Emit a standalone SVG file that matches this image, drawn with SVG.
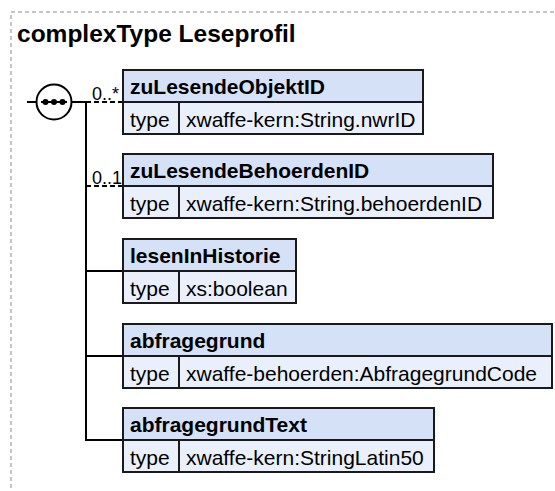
<svg xmlns="http://www.w3.org/2000/svg" width="555" height="491" viewBox="0 0 555 491">
<style>
text{font-family:"Liberation Sans",Arial,sans-serif;fill:#000}
.title{font-size:24.5px;font-weight:bold}
.name{font-size:21px;font-weight:bold}
.val{font-size:21px}
.mult{font-size:18px}
.hdr{fill:#d5e1f6;stroke:#1a1a1a;stroke-width:2}
.row{fill:#e9f0fb;stroke:#1a1a1a;stroke-width:2}
.sep{stroke:#1a1a1a;stroke-width:2}
.ln{stroke:#000;stroke-width:2;fill:none}
.dl{stroke:#000;stroke-width:2;fill:none;stroke-dasharray:5,3}
</style>
<rect x="11" y="12" width="600" height="520" fill="none" stroke="#8a8a8a" stroke-width="1" stroke-dasharray="4,3"/>
<text class="title" x="17" y="42">complexType Leseprofil</text>
<g id="sequence">
<line class="ln" x1="27" y1="102" x2="36" y2="102"/>
<circle cx="54" cy="102" r="17.5" fill="#fff" stroke="#000" stroke-width="2"/>
<line class="ln" x1="41" y1="102" x2="67" y2="102"/>
<circle cx="45.5" cy="102" r="3" fill="#000"/>
<circle cx="54" cy="102" r="3" fill="#000"/>
<circle cx="62.5" cy="102" r="3" fill="#000"/>
</g>
<g id="connectors">
<line class="ln" x1="71.5" y1="102" x2="86" y2="102"/>
<line class="ln" x1="86" y1="101" x2="86" y2="441"/>
<line class="dl" x1="86" y1="102" x2="123" y2="102"/>
<line class="dl" x1="86" y1="186" x2="123" y2="186"/>
<line class="ln" x1="86" y1="271" x2="123" y2="271"/>
<line class="ln" x1="86" y1="356" x2="123" y2="356"/>
<line class="ln" x1="86" y1="440" x2="123" y2="440"/>
<text class="mult" x="92" y="100">0..*</text>
<text class="mult" x="92" y="184">0..1</text>
</g>
<g id="zuLesendeObjektID">
<rect class="hdr" x="123" y="70" width="300" height="32"/>
<rect class="row" x="123" y="102" width="300" height="32"/>
<line class="sep" x1="179" y1="102" x2="179" y2="134"/>
<text class="name" x="130" y="94">zuLesendeObjektID</text>
<text class="val" x="130" y="127">type</text>
<text class="val" x="186" y="127">xwaffe-kern:String.nwrID</text>
</g>
<g id="zuLesendeBehoerdenID">
<rect class="hdr" x="123" y="154" width="370" height="32"/>
<rect class="row" x="123" y="186" width="370" height="32"/>
<line class="sep" x1="179" y1="186" x2="179" y2="218"/>
<text class="name" x="130" y="178">zuLesendeBehoerdenID</text>
<text class="val" x="130" y="211">type</text>
<text class="val" x="186" y="211">xwaffe-kern:String.behoerdenID</text>
</g>
<g id="lesenInHistorie">
<rect class="hdr" x="123" y="239" width="173" height="32"/>
<rect class="row" x="123" y="271" width="173" height="32"/>
<line class="sep" x1="179" y1="271" x2="179" y2="303"/>
<text class="name" x="130" y="263">lesenInHistorie</text>
<text class="val" x="130" y="296">type</text>
<text class="val" x="186" y="296">xs:boolean</text>
</g>
<g id="abfragegrund">
<rect class="hdr" x="123" y="324" width="429" height="32"/>
<rect class="row" x="123" y="356" width="429" height="32"/>
<line class="sep" x1="179" y1="356" x2="179" y2="388"/>
<text class="name" x="130" y="348">abfragegrund</text>
<text class="val" x="130" y="381">type</text>
<text class="val" x="186" y="381">xwaffe-behoerden:AbfragegrundCode</text>
</g>
<g id="abfragegrundText">
<rect class="hdr" x="123" y="408" width="311" height="32"/>
<rect class="row" x="123" y="440" width="311" height="32"/>
<line class="sep" x1="179" y1="440" x2="179" y2="472"/>
<text class="name" x="130" y="432">abfragegrundText</text>
<text class="val" x="130" y="465">type</text>
<text class="val" x="186" y="465">xwaffe-kern:StringLatin50</text>
</g>
</svg>
